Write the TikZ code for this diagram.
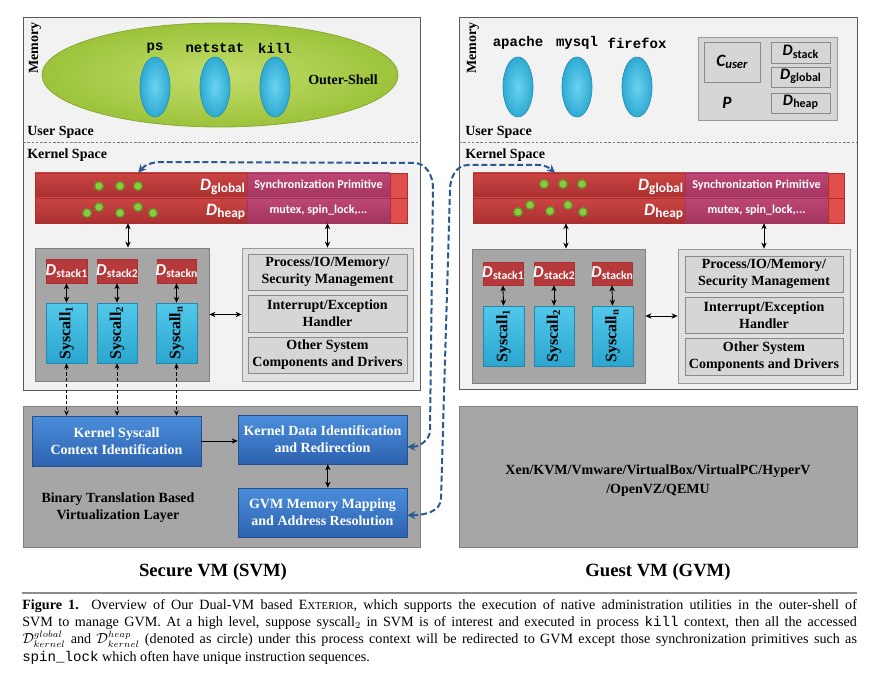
\documentclass[tikz,border=0pt]{standalone}
\usepackage{fontspec}
\setmainfont{Liberation Serif}
\setsansfont{Carlito}
\setmonofont{Liberation Mono}
\usetikzlibrary{arrows.meta,fit,calc,shapes.geometric}
\definecolor{panelbg}{HTML}{F2F2F2}
\definecolor{panelbd}{HTML}{5A5A5A}
\definecolor{grpbg}{HTML}{A6A6A6}
\definecolor{grpbd}{HTML}{7F7F7F}
\definecolor{compbg}{HTML}{E0E0E0}
\definecolor{compbd}{HTML}{9A9A9A}
\definecolor{itembg}{HTML}{D6D6D6}
\definecolor{itembd}{HTML}{8A8A8A}
\definecolor{barredtop}{HTML}{CC4544}
\definecolor{barredbot}{HTML}{A93030}
\definecolor{barpurtop}{HTML}{BD4775}
\definecolor{barpurbot}{HTML}{A2355F}
\definecolor{barend}{HTML}{E04D4D}
\definecolor{stackred}{HTML}{B63A3B}
\definecolor{sysbluetop}{HTML}{52C8EA}
\definecolor{sysbluebot}{HTML}{2BA6CF}
\definecolor{sysbd}{HTML}{2388AC}
\definecolor{modbluetop}{HTML}{4B8EDB}
\definecolor{modbluebot}{HTML}{2D62B0}
\definecolor{modbluebd}{HTML}{24508F}
\definecolor{shellgreen}{HTML}{9CC33B}
\definecolor{shellgreenlt}{HTML}{C3DE6A}
\definecolor{shellbd}{HTML}{87AA30}
\definecolor{procblue}{HTML}{2FAAD2}
\definecolor{procbluelt}{HTML}{6AD3F0}
\definecolor{procbd}{HTML}{2790B4}
\definecolor{dotgreen}{HTML}{8DCB3E}
\definecolor{dotbd}{HTML}{5F9A2B}
\definecolor{linkblue}{HTML}{2B5A8E}
\definecolor{rulegray}{HTML}{8C8C8C}
\newcommand\Dtxt[3]{{\fontsize{#1}{#1}\selectfont\itshape D}\kern0.2pt\raisebox{-0.35ex}{\fontsize{#2}{#2}\selectfont #3}}
\begin{document}
\begin{tikzpicture}[x=0.75pt,y=-0.75pt,
  panel/.style={draw=panelbd, fill=panelbg, line width=0.7pt, inner sep=0pt},
  grp/.style={draw=grpbd, fill=grpbg, line width=0.6pt, inner sep=0pt},
  comp/.style={draw=compbd, fill=compbg, line width=0.6pt, inner sep=0pt},
  item/.style={draw=itembd, fill=itembg, line width=0.6pt, inner sep=0pt},
  itemtxt/.style={inner sep=0pt, align=center, font=\bfseries\fontsize{10.5}{12.6}\selectfont},
  redbar/.style={draw=barredbot, top color=barredtop, bottom color=barredbot, line width=0.4pt, inner sep=0pt},
  purbar/.style={draw=barpurbot, top color=barpurtop, bottom color=barpurbot, line width=0.4pt, inner sep=0pt},
  purtxt/.style={inner sep=0pt, text=white, font=\sffamily\bfseries\fontsize{9.1}{9.5}\selectfont},
  endbar/.style={draw=barredbot, fill=barend, line width=0.4pt, inner sep=0pt},
  stackbox/.style={draw=barredbot, fill=stackred, line width=0.4pt, inner sep=0pt},
  stacktxt/.style={inner sep=0pt, text=white, font=\sffamily\bfseries},
  sysbox/.style={draw=sysbd, top color=sysbluetop, bottom color=sysbluebot, line width=0.5pt, inner sep=0pt},
  systxt/.style={inner sep=0pt, rotate=90, font=\bfseries\fontsize{12}{12}\selectfont},
  modbox/.style={draw=modbluebd, top color=modbluetop, bottom color=modbluebot, line width=0.5pt, inner sep=0pt},
  modtxt/.style={inner sep=0pt, text=white, align=center, font=\bfseries\fontsize{10.5}{12.8}\selectfont},
  lgbox/.style={draw=itembd, fill=itembg, line width=0.5pt, inner sep=0pt},
  lgtxt/.style={inner sep=0pt, font=\sffamily\bfseries},
  lab/.style={font=\bfseries\fontsize{10.5}{12}\selectfont, inner sep=0pt},
  proc/.style={ellipse, draw=procbd, line width=0.5pt, inner color=procbluelt, outer color=procblue, minimum width=22.5pt, minimum height=45pt, inner sep=0pt},
  proclab/.style={font=\ttfamily\bfseries\fontsize{10.5}{12}\selectfont, inner sep=0pt},
  dbl/.style={<->, >={Stealth[length=4.5pt,width=4pt]}, line width=0.7pt, black},
  sgl/.style={->, >={Stealth[length=4.5pt,width=4pt]}, line width=0.7pt, black},
  dashlink/.style={<->, >={Stealth[length=4pt,width=3.5pt]}, line width=0.6pt, dash pattern=on 2.5pt off 1.8pt},
  bluelink/.style={<->, >={Stealth[length=6pt,width=6pt]}, line width=1.5pt, linkblue, dash pattern=on 4.5pt off 2.2pt},
  sepline/.style={draw=grpbd, line width=0.6pt, dash pattern=on 2pt off 1.2pt},
  dotsty/.style={fill=dotgreen, draw=dotbd, line width=0.9pt},
  title/.style={font=\bfseries\fontsize{14}{16}\selectfont, inner sep=0pt}
]
\useasboundingbox (0,0) rectangle (874,677);
\fill[white] (0,0) rectangle (874,677);

%================ SVM =================
\node[panel, fit={(23,17) (420,390)}] (svm) {};
\draw[sepline] (23,142) -- (420,142);
\node[lab, rotate=90] (mem1) at (35,48) {Memory};
\node[lab, anchor=west] (us1) at (27,132) {User Space};
\node[lab, anchor=west] (ks1) at (27,155) {Kernel Space};

\node[ellipse, draw=shellbd, line width=0.6pt, inner color=shellgreenlt, outer color=shellgreen, minimum width=267pt, minimum height=78pt, inner sep=0pt] (shell) at (220,75) {};
\node[lab, anchor=center] (oslab) at (343,80) {Outer-Shell};
\node[proc] (ps) at (155,87) {};
\node[proc] (netstat) at (215,87) {};
\node[proc] (kill) at (275,87) {};
\node[proclab] (pslab) at (155,48) {ps};
\node[proclab] (netlab) at (215,48) {netstat};
\node[proclab] (killlab) at (275,48) {kill};

% bars
\node[redbar, fit={(35,173) (247,198)}] (gr1) {};
\node[purbar, fit={(247,173) (390,198)}] (gp1) {};
\node[endbar, fit={(390,173) (407,198)}] (ge1) {};
\node[redbar, fit={(35,198) (247,223)}] (hr1) {};
\node[purbar, fit={(247,198) (390,223)}] (hp1) {};
\node[endbar, fit={(390,198) (407,223)}] (he1) {};
\node[purtxt] (gp1t) at (gp1.center) {Synchronization Primitive};
\node[purtxt] (hp1t) at (hp1.center) {mutex, spin\_lock,...};
\node[anchor=east, inner sep=1.5pt, text=white, font=\sffamily\bfseries] (dg1) at ([yshift=-1pt]gr1.east) {\Dtxt{13}{10}{global}};
\node[anchor=east, inner sep=1.5pt, text=white, font=\sffamily\bfseries] (dh1) at ([yshift=-1pt]hr1.east) {\Dtxt{13}{10}{heap}};
\foreach \p in {(99,186),(120,186),(138,186),(87,213),(99,207),(120,213),(138,207),(153,213)}
  \filldraw[dotsty] \p circle (3.2pt);

% syscall group
\node[grp, fit={(35,248) (209,381)}] (sg1) {};
\node[stackbox, fit={(46,259) (87,283)}] (ds11) {};
\node[stackbox, fit={(97,259) (137,283)}] (ds12) {};
\node[stackbox, fit={(157,259) (196,283)}] (ds1n) {};
\node[stacktxt] (ds11t) at (ds11.center) {\Dtxt{12.5}{8.8}{stack1}};
\node[stacktxt] (ds12t) at (ds12.center) {\Dtxt{12.5}{8.8}{stack2}};
\node[stacktxt] (ds1nt) at (ds1n.center) {\Dtxt{12.5}{8.8}{stackn}};
\node[sysbox, fit={(46,303) (87,363)}] (sc11) {};
\node[sysbox, fit={(97,303) (137,363)}] (sc12) {};
\node[sysbox, fit={(156,303) (197,363)}] (sc1n) {};
\node[systxt] (sc11t) at (sc11.center) {Syscall\textsubscript{1}};
\node[systxt] (sc12t) at (sc12.center) {Syscall\textsubscript{2}};
\node[systxt] (sc1nt) at (sc1n.center) {Syscall\textsubscript{n}};
\draw[dbl] (ds11.south) -- (sc11.north);
\draw[dbl] (ds12.south) -- (sc12.north);
\draw[dbl] (ds1n.south) -- (sc1n.north);

% components
\node[comp, fit={(242,248) (413,381)}] (cp1) {};
\node[item, fit={(248,254) (407,290)}] (pm1) {};
\node[item, fit={(248,295) (407,332)}] (ie1) {};
\node[item, fit={(248,337) (407,373)}] (os1) {};
\node[itemtxt] (pm1t) at (pm1.center) {Process/IO/Memory/\\Security Management};
\node[itemtxt] (ie1t) at (ie1.center) {Interrupt/Exception\\Handler};
\node[itemtxt] (os1t) at (os1.center) {Other System\\Components and Drivers};

\draw[dbl] ([xshift=4.5pt]sg1.north) -- ([xshift=4.5pt]sg1.north |- hr1.south);
\draw[dbl] (cp1.north) -- (cp1.north |- hp1.south);
\draw[dbl] (sg1.east) -- (sg1.east -| cp1.west);

% BT layer
\node[grp, fit={(23,406) (420,547)}] (bt) {};
\node[modbox, fit={(32,416) (201,466)}] (ksc) {};
\node[modbox, fit={(238,415) (407,464)}] (kdi) {};
\node[modbox, fit={(238,488) (407,537)}] (gmm) {};
\node[modtxt] (ksct) at (ksc.center) {Kernel Syscall\\Context Identification};
\node[modtxt] (kdit) at (kdi.center) {Kernel Data Identification\\and Redirection};
\node[modtxt] (gmmt) at (gmm.center) {GVM Memory Mapping\\and Address Resolution};
\node[lab, align=center, font=\bfseries\fontsize{10.5}{12.8}\selectfont] (btlab) at (118,508) {Binary Translation Based\\Virtualization Layer};
\draw[sgl] (ksc.east) -- (ksc.east -| kdi.west);
\draw[dbl] ([xshift=4pt]kdi.south) -- ([xshift=4pt]gmm.north);
\draw[dashlink] (sc11.south) -- (sc11.south |- ksc.north);
\draw[dashlink] (sc12.south) -- (sc12.south |- ksc.north);
\draw[dashlink] (sc1n.south) -- (sc1n.south |- ksc.north);

\node[title] (svmt) at (213,572) {Secure VM (SVM)};

%================ GVM =================
\node[panel, fit={(459,17) (857,389)}] (gvm) {};
\draw[sepline] (459,142) -- (857,142);
\node[lab, rotate=90] (mem2) at (473,48) {Memory};
\node[lab, anchor=west] (us2) at (465,132) {User Space};
\node[lab, anchor=west] (ks2) at (465,155) {Kernel Space};

\node[proc] (apache) at (518,87) {};
\node[proc] (mysql) at (577,87) {};
\node[proc] (firefox) at (637,87) {};
\node[proclab] (aplab) at (518,43) {apache};
\node[proclab] (mylab) at (577,43) {mysql};
\node[proclab] (fflab) at (637,43) {firefox};

% legend
\node[lgbox, fit={(698,37) (837,120)}, draw=compbd] (lg) {};
\node[lgbox, fit={(704,42) (760,82)}] (cuser) {};
\node[lgbox, fit={(771,42) (830,63)}] (lds) {};
\node[lgbox, fit={(771,67) (830,87)}] (ldg) {};
\node[lgbox, fit={(771,93) (830,113)}] (ldh) {};
\node[lgtxt] (cusert) at (cuser.center) {{\fontsize{13}{13}\selectfont\itshape C}\raisebox{-0.35ex}{\fontsize{9.5}{9.5}\selectfont\itshape user}};
\node[lgtxt] (ldst) at ([yshift=0.5pt]lds.center) {\Dtxt{12}{9}{stack}};
\node[lgtxt] (ldgt) at ([yshift=0.5pt]ldg.center) {\Dtxt{12}{9}{global}};
\node[lgtxt] (ldht) at ([yshift=0.5pt]ldh.center) {\Dtxt{12}{9}{heap}};
\node[inner sep=0pt, font=\sffamily\bfseries\itshape\fontsize{13}{13}\selectfont] (pp) at (727,103) {P};

% bars
\node[redbar, fit={(473,173) (685,198)}] (gr2) {};
\node[purbar, fit={(685,173) (828,198)}] (gp2) {};
\node[endbar, fit={(828,173) (844,198)}] (ge2) {};
\node[redbar, fit={(473,198) (685,223)}] (hr2) {};
\node[purbar, fit={(685,198) (828,223)}] (hp2) {};
\node[endbar, fit={(828,198) (844,223)}] (he2) {};
\node[purtxt] (gp2t) at (gp2.center) {Synchronization Primitive};
\node[purtxt] (hp2t) at (hp2.center) {mutex, spin\_lock,...};
\node[anchor=east, inner sep=1.5pt, text=white, font=\sffamily\bfseries] (dg2) at ([yshift=-1pt]gr2.east) {\Dtxt{13}{10}{global}};
\node[anchor=east, inner sep=1.5pt, text=white, font=\sffamily\bfseries] (dh2) at ([yshift=-1pt]hr2.east) {\Dtxt{13}{10}{heap}};
\foreach \p in {(544,184),(563,184),(582,184),(518,212),(530,205),(550,211),(568,205),(583,212)}
  \filldraw[dotsty] \p circle (3.2pt);

% syscall group
\node[grp, fit={(472,249) (645,383)}] (sg2) {};
\node[stackbox, fit={(483,262) (523,285)}] (ds21) {};
\node[stackbox, fit={(534,262) (574,285)}] (ds22) {};
\node[stackbox, fit={(592,262) (632,285)}] (ds2n) {};
\node[stacktxt] (ds21t) at (ds21.center) {\Dtxt{12.5}{8.8}{stack1}};
\node[stacktxt] (ds22t) at (ds22.center) {\Dtxt{12.5}{8.8}{stack2}};
\node[stacktxt] (ds2nt) at (ds2n.center) {\Dtxt{12.5}{8.8}{stackn}};
\node[sysbox, fit={(483,306) (524,366)}] (sc21) {};
\node[sysbox, fit={(534,306) (574,366)}] (sc22) {};
\node[sysbox, fit={(592,306) (633,366)}] (sc2n) {};
\node[systxt] (sc21t) at (sc21.center) {Syscall\textsubscript{1}};
\node[systxt] (sc22t) at (sc22.center) {Syscall\textsubscript{2}};
\node[systxt] (sc2nt) at (sc2n.center) {Syscall\textsubscript{n}};
\draw[dbl] (ds21.south) -- (sc21.north);
\draw[dbl] (ds22.south) -- (sc22.north);
\draw[dbl] (ds2n.south) -- (sc2n.north);

% components
\node[comp, fit={(678,249) (850,383)}] (cp2) {};
\node[item, fit={(685,256) (843,292)}] (pm2) {};
\node[item, fit={(685,297) (843,333)}] (ie2) {};
\node[item, fit={(685,338) (843,375)}] (os2) {};
\node[itemtxt] (pm2t) at (pm2.center) {Process/IO/Memory/\\Security Management};
\node[itemtxt] (ie2t) at (ie2.center) {Interrupt/Exception\\Handler};
\node[itemtxt] (os2t) at (os2.center) {Other System\\Components and Drivers};

\draw[dbl] ([xshift=5.6pt]sg2.north) -- ([xshift=5.6pt]sg2.north |- hr2.south);
\draw[dbl] (cp2.north) -- (cp2.north |- hp2.south);
\draw[dbl] (sg2.east) -- (sg2.east -| cp2.west);

% hypervisor box
\node[grp, fit={(459,406) (857,547)}] (hv) {};
\node[inner sep=0pt, align=center, font=\bfseries\fontsize{10.5}{14}\selectfont] (hvt) at ([yshift=-3pt]hv.center) {Xen/KVM/Vmware/VirtualBox/VirtualPC/HyperV\\/OpenVZ/QEMU};
\node[title] (gvmt) at (658,572) {Guest VM (GVM)};

%================ redirection links =================
\draw[bluelink] ([yshift=-5.5pt]kdi.east) to[out=0,in=-90] (430,430) -- (433,188) to[out=90,in=0] (414,163) -- (162,162) to[out=180,in=50] ([xshift=-2pt]gr1.north);
\draw[bluelink] ([yshift=-2pt]gmm.east) to[out=0,in=-90] (441,498) -- (450,190) to[out=90,in=180] (468,165) -- (538,165) to[out=0,in=140] ([xshift=-18pt]gr2.north);

%================ caption =================
\draw[rulegray, line width=1.1pt] (22,593) -- (857,593);
\node[anchor=north west, inner sep=0pt, text width=626pt, align=justify, font=\fontsize{10.6}{13}\selectfont] (cap) at (22,599) {%
{\bfseries Figure 1.}\ \ Overview of Our Dual-VM based E{\fontsize{8}{8}\selectfont XTERIOR}, which supports the execution of native administration utilities in the outer-shell of\linebreak
SVM to manage GVM. At a high level, suppose syscall$_2$ in SVM is of interest and executed in process \texttt{kill} context, then all the accessed\linebreak
$\mathcal{D}^{global}_{kernel}$ and $\mathcal{D}^{heap}_{kernel}$ (denoted as circle) under this process context will be redirected to GVM except those synchronization primitives such as\linebreak
\texttt{spin\_lock} which often have unique instruction sequences.};
\end{tikzpicture}
\end{document}
